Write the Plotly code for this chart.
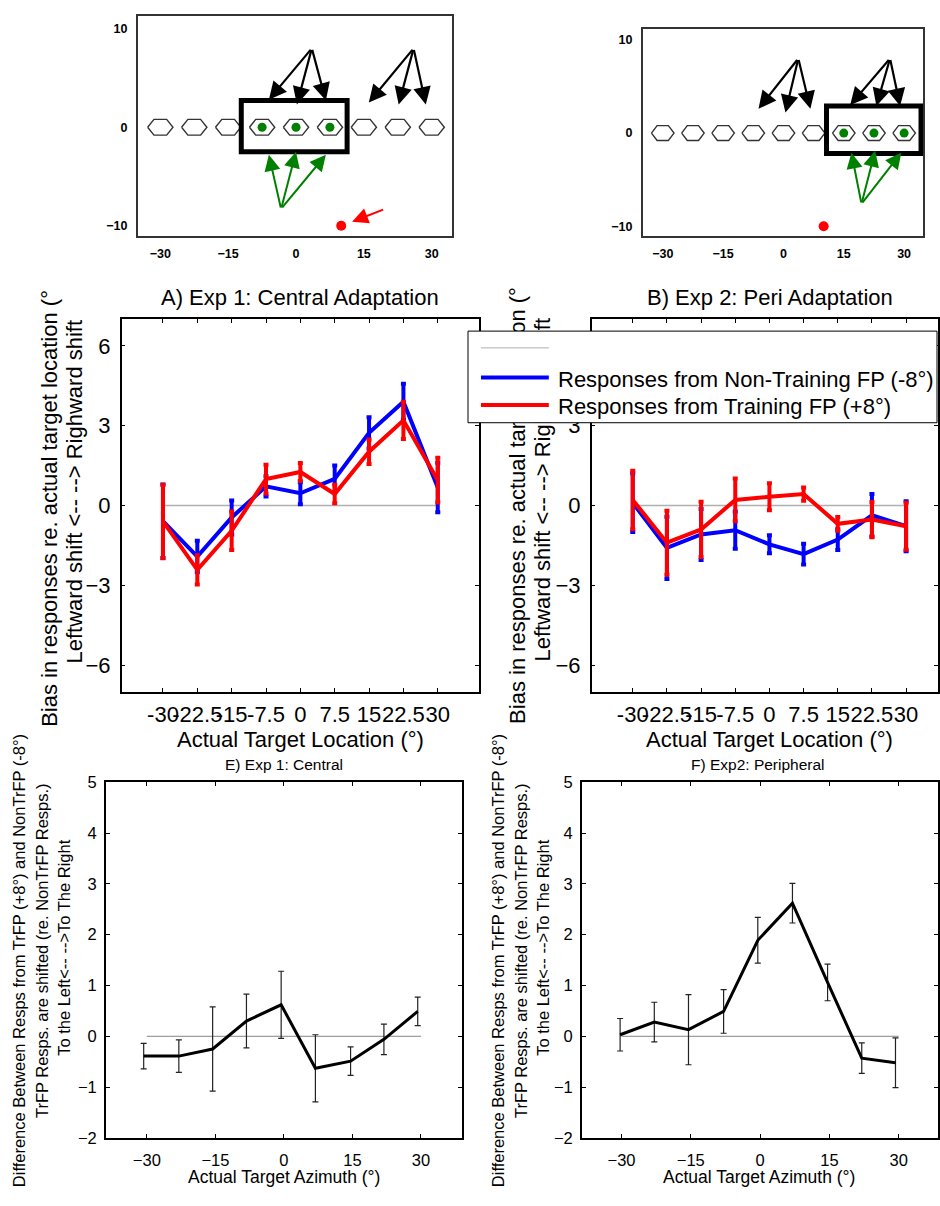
import plotly.graph_objects as go

W, H = 940, 1206
FONT = "Liberation Sans, Arial, sans-serif"


def px(x):
    return x / W


def py(y):
    return 1 - y / H


# ---------------- data ----------------
TARGETS = [-30, -22.5, -15, -7.5, 0, 7.5, 15, 22.5, 30]
TARGET_LABELS = ["-30", "-22.5", "-15", "-7.5", "0", "7.5", "15", "22.5", "30"]
SCHEM_XTICKS = [-30, -15, 0, 15, 30]
SCHEM_YTICKS = [-10, 0, 10]

EXP1_TRAINED = [-7.5, 0, 7.5]
EXP2_TRAINED = [15, 22.5, 30]
FP_X = [10]
FP_Y = [-10]

# arrows of the schematics: (tail_x, tail_y, head_x, head_y)
EXP1_BLACK_ARROWS = [(3.5, 8.0, -6.0, 2.8), (3.5, 8.0, 0.2, 2.3), (3.5, 8.0, 6.6, 2.7),
                     (26.0, 8.0, 16.1, 2.5), (26.0, 8.0, 22.7, 2.3), (26.0, 8.0, 28.7, 2.3)]
EXP1_GREEN_ARROWS = [(-3.3, -8.3, -6.0, -2.8), (-3.3, -8.3, 0.0, -2.5), (-3.3, -8.3, 6.6, -2.8)]
EXP1_RED_ARROWS = [(19.6, -8.3, 12.4, -9.6)]
EXP2_BLACK_ARROWS = [(3.7, 8.0, -6.2, 2.6), (3.7, 8.0, 0.5, 2.2), (3.7, 8.0, 6.7, 2.6),
                     (26.5, 8.0, 16.6, 3.0), (26.5, 8.0, 23.1, 2.9), (26.5, 8.0, 29.0, 2.9)]
EXP2_GREEN_ARROWS = [(19.4, -7.6, 16.9, -2.1), (19.4, -7.6, 22.8, -1.9), (19.4, -7.6, 29.3, -2.1)]
EXP1_BOX = (-12.1, -2.5, 11.3, 2.7)
EXP2_BOX = (10.7, -2.2, 34.2, 2.9)

# Panel A: Exp 1 central adaptation
A_NONTR = [-0.59, -1.92, -0.45, 0.72, 0.46, 1.0, 2.73, 3.9, 0.68]
A_NONTR_ERR = [1.38, 0.59, 0.64, 0.38, 0.41, 0.5, 0.59, 0.68, 0.93]
A_TR = [-0.6, -2.42, -0.95, 0.99, 1.26, 0.43, 2.02, 3.2, 0.95]
A_TR_ERR = [1.38, 0.55, 0.72, 0.54, 0.34, 0.35, 0.46, 0.7, 0.84]

# Panel B: Exp 2 peripheral adaptation
B_NONTR = [0.1, -1.59, -1.09, -0.93, -1.46, -1.83, -1.28, -0.37, -0.78]
B_NONTR_ERR = [1.1, 1.17, 0.96, 0.7, 0.34, 0.39, 0.39, 0.8, 0.94]
B_TR = [0.21, -1.4, -0.9, 0.21, 0.33, 0.43, -0.69, -0.53, -0.78]
B_TR_ERR = [1.1, 1.2, 1.04, 0.8, 0.51, 0.25, 0.26, 0.66, 0.88]

# Panel E / F: differences
E_X = [-30.7, -23.0, -15.6, -8.2, -0.6, 6.9, 14.6, 21.9, 29.3]
E_DIFF = [-0.39, -0.39, -0.25, 0.3, 0.62, -0.63, -0.49, -0.06, 0.49]
E_ERR = [0.25, 0.32, 0.83, 0.53, 0.66, 0.66, 0.28, 0.3, 0.28]
F_X = [-30.3, -22.9, -15.5, -7.9, -0.5, 7.0, 14.6, 22.0, 29.3]
F_DIFF = [0.03, 0.28, 0.13, 0.49, 1.89, 2.62, 1.06, -0.43, -0.52]
F_ERR = [0.32, 0.39, 0.69, 0.43, 0.45, 0.39, 0.36, 0.3, 0.49]

NAME_NONTR = "Responses from Non-Training FP (-8°)"
NAME_TR = "Responses from Training FP (+8°)"

fig = go.Figure()

# ---------------- schematics ----------------
HW, HH = 2.8, 0.8


def hex_path(xs):
    X, Y = [], []
    for x in xs:
        X += [x - HW, x - HW / 2, x + HW / 2, x + HW, x + HW / 2, x - HW / 2, x - HW, None]
        Y += [0, HH, HH, 0, -HH, -HH, 0, None]
    return X, Y


annotations = []
shapes = []

for k, (trained, black, green, red, box) in enumerate([
        (EXP1_TRAINED, EXP1_BLACK_ARROWS, EXP1_GREEN_ARROWS, EXP1_RED_ARROWS, EXP1_BOX),
        (EXP2_TRAINED, EXP2_BLACK_ARROWS, EXP2_GREEN_ARROWS, [], EXP2_BOX)]):
    xa = "x" if k == 0 else "x2"
    ya = "y" if k == 0 else "y2"
    hx, hy = hex_path(TARGETS)
    fig.add_trace(go.Scatter(x=hx, y=hy, mode="lines", line=dict(color="#333", width=1.4),
                             xaxis=xa, yaxis=ya, showlegend=False, hoverinfo="skip"))
    fig.add_trace(go.Scatter(x=trained, y=[0] * len(trained), mode="markers",
                             marker=dict(color="#008000", size=9), xaxis=xa, yaxis=ya,
                             showlegend=False))
    fig.add_trace(go.Scatter(x=FP_X, y=FP_Y, mode="markers",
                             marker=dict(color="red", size=10), xaxis=xa, yaxis=ya,
                             showlegend=False))
    for arrows, col, w in [(black, "black", 2.2), (green, "#008000", 2.0), (red, "red", 2.0)]:
        for (tx, ty, hx_, hy_) in arrows:
            annotations.append(dict(x=hx_, y=hy_, ax=tx, ay=ty, xref=xa, yref=ya,
                                    axref=xa, ayref=ya, text="", showarrow=True,
                                    arrowhead=2, arrowsize=1.6, arrowwidth=w,
                                    arrowcolor=col))
    shapes.append(dict(type="rect", xref=xa, yref=ya, x0=box[0], y0=box[1], x1=box[2], y1=box[3],
                       line=dict(color="black", width=5)))

# ---------------- panels A and B ----------------
for xa, ya, nontr, nerr, tr, terr in [("x3", "y3", A_NONTR, A_NONTR_ERR, A_TR, A_TR_ERR),
                                       ("x4", "y4", B_NONTR, B_NONTR_ERR, B_TR, B_TR_ERR)]:
    fig.add_trace(go.Scatter(x=[TARGETS[0], TARGETS[-1]], y=[0, 0], mode="lines",
                             line=dict(color="#b0b0b0", width=1.5), xaxis=xa, yaxis=ya,
                             showlegend=False, hoverinfo="skip"))
    fig.add_trace(go.Scatter(x=TARGETS, y=nontr, mode="lines", name=NAME_NONTR,
                             line=dict(color="#0000ff", width=4),
                             error_y=dict(type="data", array=nerr, color="#0000ff",
                                          thickness=4, width=2.5),
                             xaxis=xa, yaxis=ya, showlegend=False))
    fig.add_trace(go.Scatter(x=TARGETS, y=tr, mode="lines", name=NAME_TR,
                             line=dict(color="#ff0000", width=4),
                             error_y=dict(type="data", array=terr, color="#ff0000",
                                          thickness=4, width=2.5),
                             xaxis=xa, yaxis=ya, showlegend=False))

# ---------------- panels E and F ----------------
for xa, ya, xs, d, e in [("x5", "y5", E_X, E_DIFF, E_ERR), ("x6", "y6", F_X, F_DIFF, F_ERR)]:
    fig.add_trace(go.Scatter(x=[TARGETS[0], TARGETS[-1]], y=[0, 0], mode="lines",
                             line=dict(color="#666", width=0.8), xaxis=xa, yaxis=ya,
                             showlegend=False, hoverinfo="skip"))
    fig.add_trace(go.Scatter(x=xs, y=d, mode="lines", line=dict(color="black", width=3),
                             error_y=dict(type="data", array=e, color="#222",
                                          thickness=1.2, width=3),
                             xaxis=xa, yaxis=ya, showlegend=False))

# ---------------- axes ----------------
BIG = 22
SMALL = 16.5


def frame_axis(domain, rng, **kw):
    d = dict(domain=domain, range=rng, showline=True, linecolor="black", linewidth=1.5,
             mirror="ticks", ticks="inside", ticklen=4, tickcolor="black", tickwidth=1,
             showgrid=False, zeroline=False, tickangle=0,
             tickfont=dict(family=FONT, size=BIG, color="black"))
    d.update(kw)
    return d


schem_font = dict(family=FONT, size=12.5, color="black", weight="bold")
small_font = dict(family=FONT, size=SMALL, color="black")


def schem_axis(domain, rng, anchor, vals):
    return dict(domain=domain, range=rng, anchor=anchor, showline=True,
                linecolor="#333", linewidth=1.5, mirror=True, ticks="", showgrid=False,
                zeroline=False, tickvals=vals, tickfont=schem_font, ticklabelstandoff=6)


layout_axes = dict(
    xaxis=schem_axis([px(138), px(453)], [-35, 34.5], "y", SCHEM_XTICKS),
    yaxis=schem_axis([py(230), py(7)], [-11, 11.3], "x", SCHEM_YTICKS),
    xaxis2=schem_axis([px(644), px(925)], [-35, 34.7], "y2", SCHEM_XTICKS),
    yaxis2=schem_axis([py(230), py(20)], [-11, 11.2], "x2", SCHEM_YTICKS),
    xaxis3=frame_axis([px(122), px(480)], [-39, 39], anchor="y3", tickvals=TARGETS,
                      ticktext=TARGET_LABELS, ticklabelstandoff=2),
    yaxis3=frame_axis([py(693), py(315)], [-7, 7], anchor="x3", tickvals=[-6, -3, 0, 3, 6],
                      ticklabelstandoff=5),
    xaxis4=frame_axis([px(593), 1.0], [-39, 37], anchor="y4", tickvals=TARGETS,
                      ticktext=TARGET_LABELS, ticklabelstandoff=2),
    yaxis4=frame_axis([py(693), py(315)], [-7, 7], anchor="x4", tickvals=[-6, -3, 0, 3, 6],
                      ticklabelstandoff=5),
    xaxis5=frame_axis([px(106), px(463)], [-39, 39], anchor="y5",
                      tickvals=SCHEM_XTICKS, tickfont=small_font, ticklabelstandoff=7),
    yaxis5=frame_axis([py(1146), py(785)], [-2, 5], anchor="x5",
                      tickvals=[-2, -1, 0, 1, 2, 3, 4, 5], tickfont=small_font,
                      ticklabelstandoff=4),
    xaxis6=frame_axis([px(583), 1.0], [-38.6, 38.5], anchor="y6",
                      tickvals=SCHEM_XTICKS, tickfont=small_font, ticklabelstandoff=7),
    yaxis6=frame_axis([py(1146), py(785)], [-2, 5], anchor="x6",
                      tickvals=[-2, -1, 0, 1, 2, 3, 4, 5], tickfont=small_font,
                      ticklabelstandoff=4),
)


# ---------------- texts ----------------
def text(t, x, y, size, **kw):
    d = dict(text=t, x=px(x), y=py(y), xref="paper", yref="paper", showarrow=False,
             font=dict(family=FONT, size=size, color="black"), xanchor="center",
             yanchor="middle")
    d.update(kw)
    return d


def vlabel(t, cx, cy, size):
    return dict(type="rect", xref="paper", yref="paper",
                x0=px(cx - 1), x1=px(cx + 1), y0=py(cy + 1), y1=py(cy - 1),
                line=dict(width=0), fillcolor="rgba(0,0,0,0)", layer="above",
                label=dict(text=t, textangle=-90, textposition="middle center",
                           font=dict(family=FONT, size=size, color="black")))


annotations += [
    text("A) Exp 1: Central Adaptation", 301, 293, BIG),
    text("B) Exp 2: Peri Adaptation", 772, 293, BIG),
    text("Actual Target Location (°)", 301, 742, BIG),
    text("Actual Target Location (°)", 771, 742, BIG),
    text("E) Exp 1: Central", 285, 767, 15.5),
    text("F) Exp2: Peripheral", 760, 767, 15.5),
    text("Actual Target Azimuth (°)", 285, 1186, 17.5),
    text("Actual Target Azimuth (°)", 761, 1186, 17.5),
]

YT1 = "Bias in responses re. actual target location (°"
YT2 = "Leftward shift <-- --> Righward shift"
DT1 = "Difference Between Resps from TrFP (+8°) and NonTrFP (-8°)"
DT2 = "TrFP Resps. are shifted (re. NonTrFP Resps.)"
DT3 = "To the Left<-- -->To The Right"

shapes += [
    vlabel(YT1, 48, 507, BIG), vlabel(YT2, 73, 490, BIG),
    vlabel(YT1, 517, 504, BIG), vlabel(YT2, 542, 488, BIG),
    vlabel(DT1, 18, 966, SMALL), vlabel(DT2, 41, 956, SMALL), vlabel(DT3, 63, 953, SMALL),
    vlabel(DT1, 498, 966, SMALL), vlabel(DT2, 521, 956, SMALL), vlabel(DT3, 543, 953, SMALL),
]

# legend box (drawn over the panel-B y label, as in the original)
shapes += [
    dict(type="rect", xref="paper", yref="paper", x0=px(469), x1=px(939), y0=py(420), y1=py(327),
         fillcolor="white", line=dict(color="black", width=1), layer="above"),
    dict(type="line", xref="paper", yref="paper", x0=px(482), x1=px(550), y0=py(344), y1=py(344),
         line=dict(color="#b0b0b0", width=1), layer="above"),
    dict(type="line", xref="paper", yref="paper", x0=px(482), x1=px(550), y0=py(374), y1=py(374),
         line=dict(color="#0000ff", width=4), layer="above"),
    dict(type="line", xref="paper", yref="paper", x0=px(482), x1=px(550), y0=py(402), y1=py(402),
         line=dict(color="#ff0000", width=4), layer="above"),
]
annotations += [
    text(NAME_NONTR, 557, 376, BIG, xanchor="left"),
    text(NAME_TR, 557, 404, BIG, xanchor="left"),
]

fig.update_layout(
    width=W, height=H, margin=dict(l=0, r=0, t=0, b=0),
    paper_bgcolor="white", plot_bgcolor="white",
    showlegend=False, annotations=annotations, shapes=shapes,
    font=dict(family=FONT, color="black"),
    **layout_axes,
)

fig.write_html("out.html")
